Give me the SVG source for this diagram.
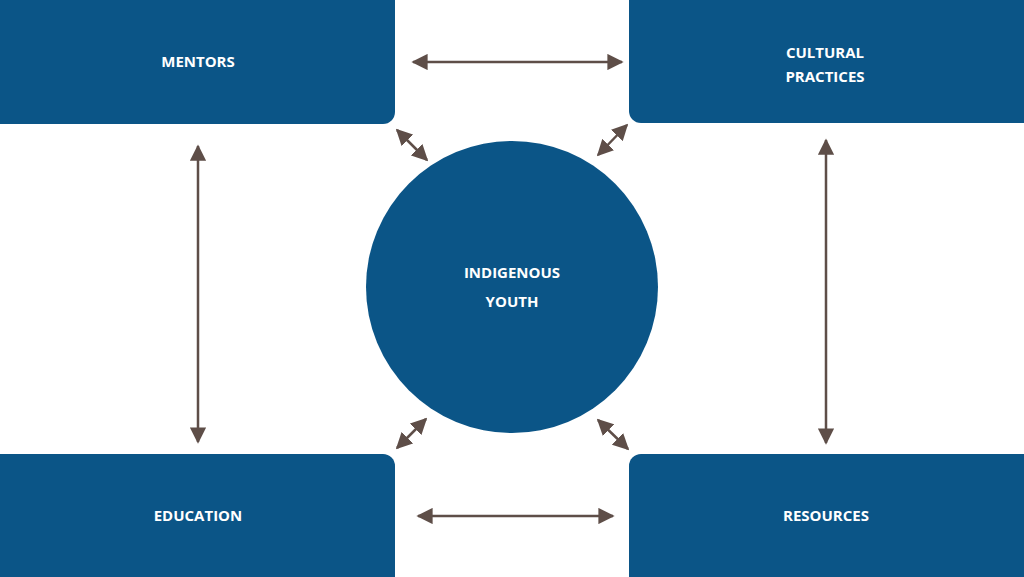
<svg xmlns="http://www.w3.org/2000/svg" width="1024" height="577" viewBox="0 0 1024 577">
<style>
.n{fill:#0b5587}
.t{fill:#fff;font-family:"Open Sans",sans-serif;font-weight:bold;font-size:15px;text-anchor:middle}
.c line{stroke:#5e4e48;stroke-width:2.5;marker-start:url(#a);marker-end:url(#a)}
</style>
<defs><marker id="a" viewBox="0 0 10 10" refX="9" refY="5" markerWidth="6.5" markerHeight="6.5" orient="auto-start-reverse" markerUnits="strokeWidth"><path d="M0,0L10,5L0,10z" fill="#5e4e48"/></marker></defs>
<rect width="1024" height="577" fill="#fff"/>
<g id="mentors"><rect class="n" x="-12" y="-12" width="407" height="136" rx="12"/><text class="t" x="198" y="67">MENTORS</text></g>
<g id="cultural"><rect class="n" x="629" y="-12" width="407" height="135" rx="12"/><text class="t" x="825" y="58">CULTURAL</text><text class="t" x="825" y="82">PRACTICES</text></g>
<g id="education"><rect class="n" x="-12" y="454" width="407" height="135" rx="12"/><text class="t" x="198" y="521">EDUCATION</text></g>
<g id="resources"><rect class="n" x="629" y="454" width="407" height="135" rx="12"/><text class="t" x="826" y="521">RESOURCES</text></g>
<g id="youth"><circle class="n" cx="512" cy="287" r="146"/><text class="t" x="512" y="278" font-size="16">INDIGENOUS</text><text class="t" x="512" y="307" font-size="16">YOUTH</text></g>
<g class="c">
<line x1="413" y1="62" x2="622" y2="62"/>
<line x1="418" y1="516" x2="613" y2="516"/>
<line x1="198" y1="146" x2="198" y2="442"/>
<line x1="826" y1="140" x2="826" y2="443"/>
<line x1="397" y1="130" x2="427" y2="160"/>
<line x1="627" y1="125" x2="598" y2="155"/>
<line x1="397" y1="448" x2="426" y2="419"/>
<line x1="598" y1="420" x2="628" y2="449"/>
</g>
</svg>
